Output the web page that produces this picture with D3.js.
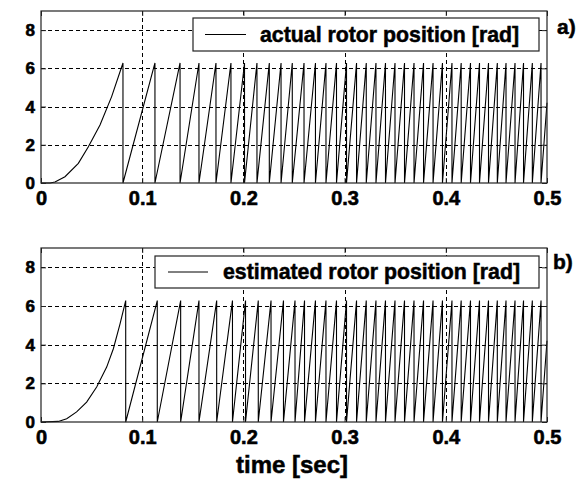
<!DOCTYPE html>
<html><head><meta charset="utf-8">
<script src="https://cdn.jsdelivr.net/npm/d3@7"></script>
<style>body{margin:0;background:#fff}svg{display:block}</style>
</head><body>
<script>
// ---- data ----
const xTicks = [0, 0.1, 0.2, 0.3, 0.4, 0.5];
const yTicks = [0, 2, 4, 6, 8];
const wrapLevel = 6.28;
// start-up curve (time, position) before first wrap
const actualStartT = [0, 0.009, 0.0138, 0.0237, 0.0369, 0.0468, 0.0583, 0.0698, 0.081];
const actualStartV = [0, 0, 0.05, 0.33, 1.03, 1.9, 3.04, 4.52, 6.28];
const estStartT = [0, 0.0171, 0.0254, 0.0352, 0.0451, 0.055, 0.0649, 0.0715, 0.0781, 0.0837];
const estStartV = [0, 0.03, 0.17, 0.52, 1.03, 1.81, 2.84, 3.79, 5.08, 6.28];
// times where position wraps from 2*pi to 0
const actualWraps = [0.081, 0.1126, 0.1374, 0.1561, 0.1729, 0.1877, 0.2011, 0.2134, 0.2256, 0.2372,
  0.2483, 0.2599, 0.2712, 0.2816, 0.2920, 0.3019, 0.3118, 0.3214, 0.3310, 0.3404, 0.3498, 0.3592,
  0.3686, 0.3780, 0.3874, 0.3967, 0.4061, 0.4152, 0.4244, 0.4333, 0.4422, 0.4509, 0.4595, 0.4684,
  0.4768, 0.4855, 0.4941];
const estWraps = [0.0837, 0.1149, 0.1380, 0.1561, 0.1736, 0.1892, 0.2021, 0.2147, 0.2273, 0.2396,
  0.2510, 0.2604, 0.2712, 0.2816, 0.2920, 0.3019, 0.3118, 0.3214, 0.3310, 0.3404, 0.3498, 0.3592,
  0.3686, 0.3780, 0.3874, 0.3967, 0.4061, 0.4152, 0.4244, 0.4333, 0.4422, 0.4509, 0.4595, 0.4684,
  0.4768, 0.4855, 0.4941];
const endT = 0.5;
const actualEndV = 4.2;
const estEndV = 4.2;
const legends = ["actual rotor position [rad]", "estimated rotor position [rad]"];
const panelLabels = ["a)", "b)"];
const xTitle = "time [sec]";

function buildSeries(st, sv, wraps, endV) {
  const pts = st.map((t, i) => [t, sv[i]]);
  wraps.forEach((w, i) => {
    if (i > 0) pts.push([w, wrapLevel]);
    pts.push([w, 0]);
  });
  pts.push([endT, endV]);
  return pts;
}

const W = 581, H = 482;
const svg = d3.select("body").append("svg").attr("width", W).attr("height", H);
svg.append("rect").attr("width", W).attr("height", H).attr("fill", "#fff");
const FONT = "'Liberation Sans', Arial, sans-serif";
function heavy(sel, size, sw) {
  sel.attr("font-family", FONT).attr("font-weight", "bold").attr("font-size", size)
    .attr("fill", "#000").attr("stroke", "#000").attr("stroke-width", sw)
    .attr("paint-order", "stroke");
}

const panels = [
  {top: 11, bottom: 183, series: buildSeries(actualStartT, actualStartV, actualWraps, actualEndV),
   leg: {x0: 193, x1: 539, y0: 18, y1: 51, lx0: 205, lx1: 246, tx: 260}, lab: {x: 557, y: 34}},
  {top: 248, bottom: 422, series: buildSeries(estStartT, estStartV, estWraps, estEndV),
   leg: {x0: 155, x1: 539, y0: 256, y1: 288, lx0: 168, lx1: 208, tx: 223}, lab: {x: 553, y: 269}}
];

panels.forEach((p, k) => {
  const x = d3.scaleLinear().domain([0, 0.5]).range([41, 547]);
  const y = d3.scaleLinear().domain([0, 9]).range([p.bottom, p.top]);
  const g = svg.append("g");
  // grid
  g.selectAll(".vg").data(xTicks.slice(1, -1)).join("line")
    .attr("x1", d => Math.round(x(d)) + 0.5).attr("x2", d => Math.round(x(d)) + 0.5).attr("y1", p.top).attr("y2", p.bottom)
    .attr("stroke", "#000").attr("stroke-width", 1).attr("stroke-dasharray", "4,3");
  g.selectAll(".hg").data(yTicks.slice(1)).join("line")
    .attr("x1", 41).attr("x2", 547).attr("y1", d => Math.round(y(d)) + 0.5).attr("y2", d => Math.round(y(d)) + 0.5)
    .attr("stroke", "#000").attr("stroke-width", 1).attr("stroke-dasharray", "4,3");
  // data line
  const line = d3.line().x(d => x(d[0])).y(d => y(d[1]));
  g.append("path").datum(p.series).attr("d", line)
    .attr("fill", "none").attr("stroke", "#000").attr("stroke-width", 1.1);
  // axes
  const xa = g.append("g").attr("transform", `translate(0,${p.bottom})`)
    .call(d3.axisBottom(x).tickValues(xTicks).tickFormat(d => d === 0 ? "0" : d3.format(".1f")(d)).tickSize(-5).tickPadding(8));
  const xt = g.append("g").attr("transform", `translate(0,${p.top})`)
    .call(d3.axisTop(x).tickValues(xTicks).tickFormat("").tickSize(-5));
  const ya = g.append("g").attr("transform", `translate(41,0)`)
    .call(d3.axisLeft(y).tickValues(yTicks).tickSize(-5).tickPadding(6));
  const yr = g.append("g").attr("transform", `translate(547,0)`)
    .call(d3.axisRight(y).tickValues(yTicks).tickFormat("").tickSize(-5));
  [xa, xt, ya, yr].forEach(a => {
    a.select(".domain").remove();
    a.selectAll("line").attr("stroke", "#222");
  });
  heavy(xa.selectAll("text"), 20, 0.6);
  heavy(ya.selectAll("text"), 17, 0.6);
  // frame
  g.append("rect").attr("x", 41).attr("y", p.top).attr("width", 506).attr("height", p.bottom - p.top)
    .attr("fill", "none").attr("stroke", "#222").attr("stroke-width", 1.2);
  // legend
  const L = p.leg;
  g.append("rect").attr("x", L.x0).attr("y", L.y0).attr("width", L.x1 - L.x0).attr("height", L.y1 - L.y0)
    .attr("fill", "#fff").attr("stroke", "#222").attr("stroke-width", 1.2);
  const ly = (L.y0 + L.y1) / 2;
  g.append("line").attr("x1", L.lx0).attr("x2", L.lx1).attr("y1", ly).attr("y2", ly)
    .attr("stroke", "#000").attr("stroke-width", 1);
  heavy(g.append("text").attr("x", L.tx).attr("y", ly).attr("dy", "0.35em").text(legends[k]), 21.3, 0.5);
  // panel label
  heavy(svg.append("text").attr("x", p.lab.x).attr("y", p.lab.y).text(panelLabels[k]), 21, 0.5);
});

heavy(svg.append("text").attr("x", 292).attr("y", 473).attr("text-anchor", "middle").text(xTitle), 24, 0.5);
</script>
</body></html>
